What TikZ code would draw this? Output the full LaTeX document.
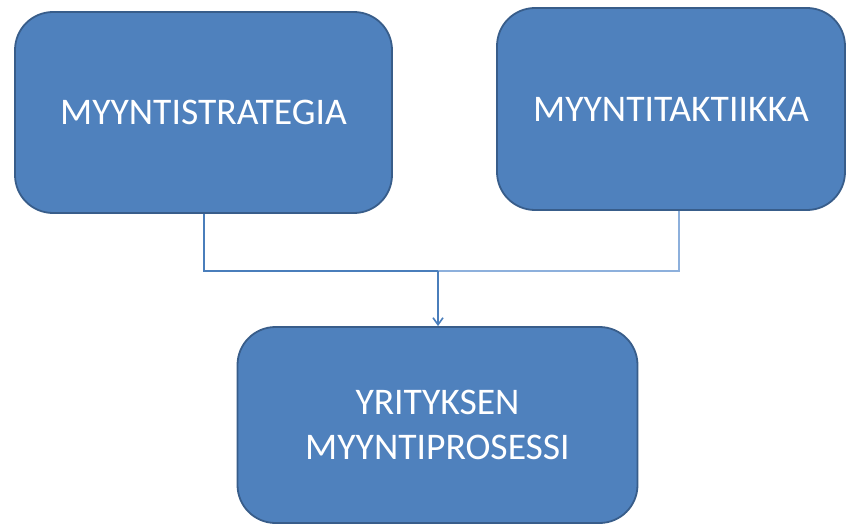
\documentclass[tikz,border=0pt]{standalone}
\usepackage{fontspec}
\setmainfont{Carlito}
\usetikzlibrary{arrows.meta}
\definecolor{boxfill}{HTML}{4F81BD}
\definecolor{boxline}{HTML}{385D8A}
\definecolor{linkA}{HTML}{4A7EBB}
\definecolor{linkB}{HTML}{8DB0DC}
\tikzset{
  procbox/.style={draw=boxline, line width=1.8pt, fill=boxfill, rounded corners=38pt,
    text=white, font=\fontsize{37.6}{45}\selectfont, align=center, inner sep=0pt},
  link/.style={line width=1.6pt}
}
\begin{document}
\begin{tikzpicture}[x=1pt,y=-1pt]
\useasboundingbox (0,0) rectangle (851,524);
\fill[white] (0,0) rectangle (851,524);
\node[procbox, minimum width=377pt, minimum height=201pt] (s) at (203.5,112.5) {MYYNTISTRATEGIA};
\node[procbox, minimum width=348pt, minimum height=202pt] (t) at (671,109) {MYYNTITAKTIIKKA};
\node[procbox, minimum width=400pt, minimum height=196pt] (p) at (437.5,425) {YRITYKSEN\\MYYNTIPROSESSI};
\coordinate (j) at (438,271);
\draw[link, linkA] (s.south -| 204,0) |- (j);
\draw[link, linkB] (t.south -| 679,0) |- (j);
\draw[link, linkA, -{Straight Barb[length=7pt,width=10pt]}] (j) -- (p.north -| j);
\end{tikzpicture}
\end{document}
